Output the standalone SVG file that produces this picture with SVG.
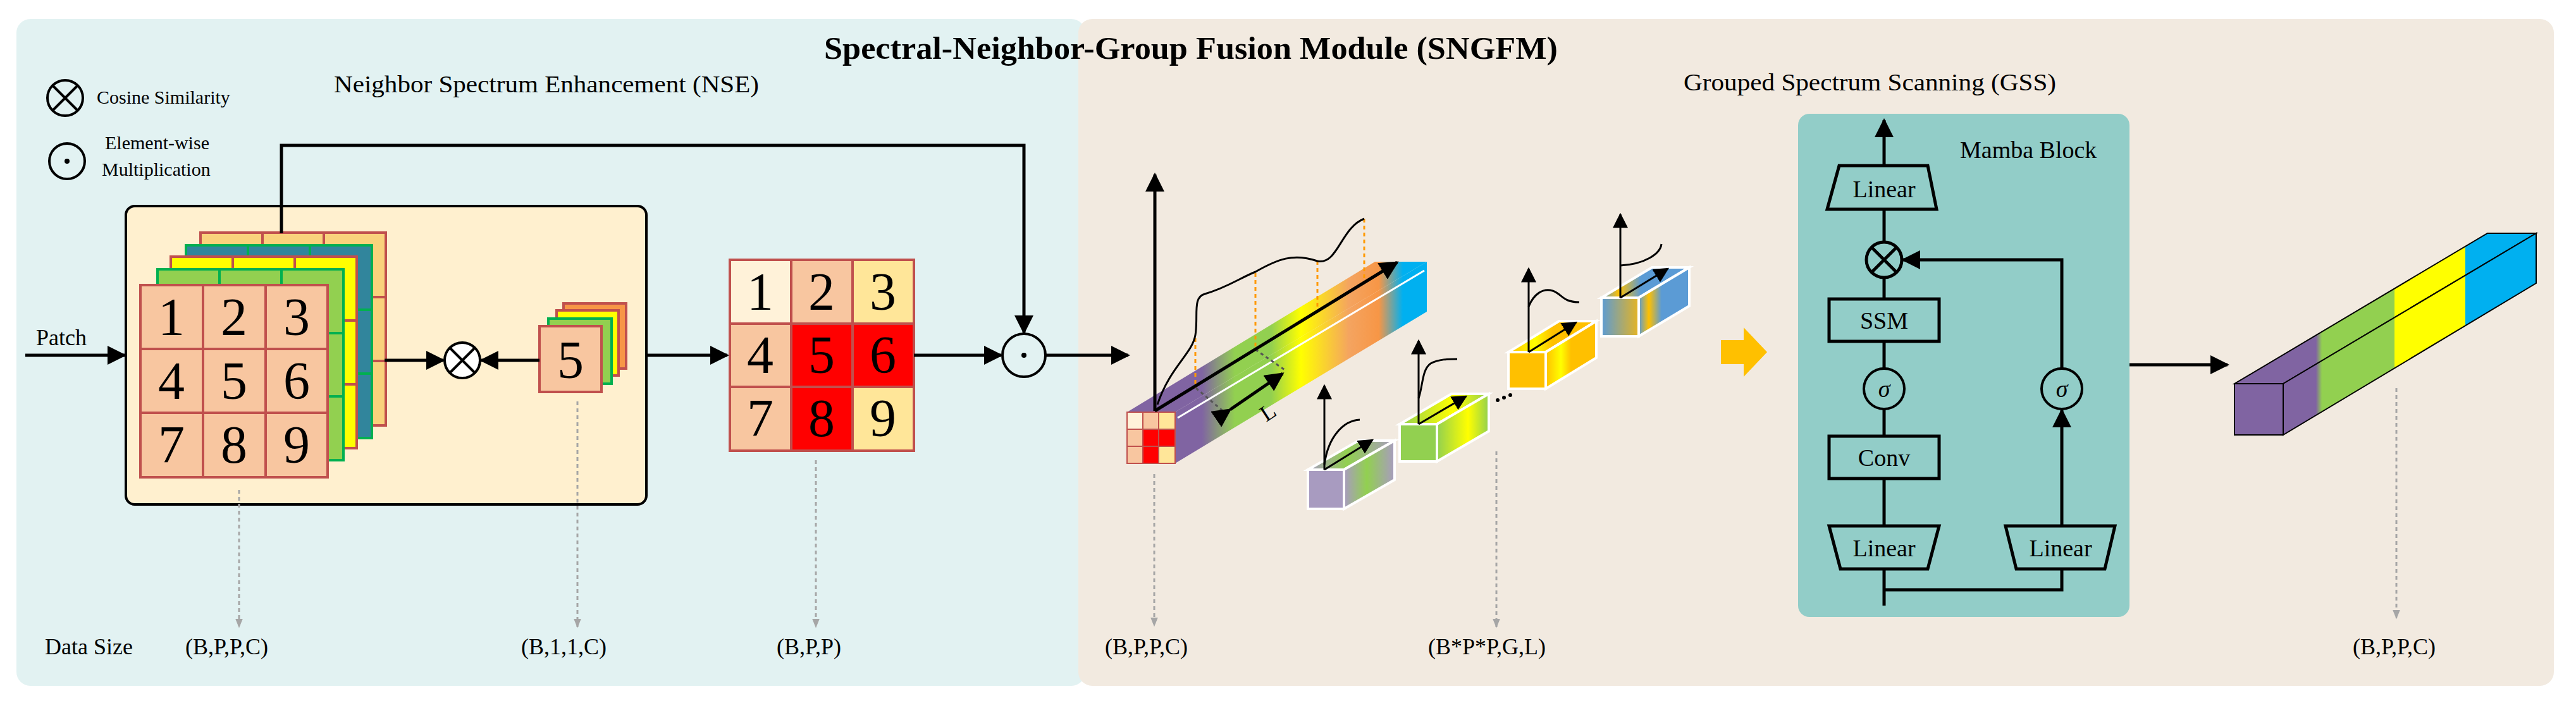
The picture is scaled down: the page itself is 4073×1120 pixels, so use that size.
<svg xmlns="http://www.w3.org/2000/svg" width="4073" height="1120" viewBox="0 0 4073 1120">
<defs>
<style>
text{font-family:"Liberation Serif","Times New Roman",serif;fill:#000}
.t{font-size:38px}
.lbl{font-size:36px}
.dg{font-size:84px;text-anchor:middle}
.ln{stroke:#000;stroke-width:5;fill:none}
.thin{stroke:#000;stroke-width:3;fill:none}
.dash{stroke:#A6A6A6;stroke-width:3;stroke-dasharray:6 5;fill:none}
.box{fill:none;stroke:#000;stroke-width:5}
.cp{fill:#F8C6A0;stroke:#C0504D;stroke-width:4}
.cub{stroke:#fff;stroke-width:4}
</style>
<marker id="ah" viewBox="0 0 10 10" refX="9" refY="5" markerWidth="6" markerHeight="6" orient="auto" markerUnits="strokeWidth"><path d="M0,0L10,5L0,10z" fill="#000"/></marker>
<marker id="ahs" viewBox="0 0 10 10" refX="9" refY="5" markerWidth="8" markerHeight="8" orient="auto" markerUnits="strokeWidth"><path d="M0,0L10,5L0,10z" fill="#000"/></marker>
<marker id="ahg" viewBox="0 0 10 10" refX="9" refY="5" markerWidth="5" markerHeight="5" orient="auto" markerUnits="strokeWidth"><path d="M0,1L10,5L0,9z" fill="#A6A6A6" transform="scale(1,1)"/></marker>
<linearGradient id="bigbar" gradientUnits="userSpaceOnUse" x1="1782" y1="0" x2="2256" y2="0">
<stop offset="0" stop-color="#8064A2"/><stop offset="0.25" stop-color="#8064A2"/><stop offset="0.36" stop-color="#92D050"/><stop offset="0.48" stop-color="#92D050"/><stop offset="0.58" stop-color="#FFFF00"/><stop offset="0.74" stop-color="#F4A460"/><stop offset="0.84" stop-color="#F79646"/><stop offset="0.92" stop-color="#00B0F0"/><stop offset="1" stop-color="#00B0F0"/></linearGradient>
<linearGradient id="outbar" gradientUnits="userSpaceOnUse" x1="3533" y1="0" x2="4010" y2="0">
<stop offset="0" stop-color="#8064A2"/><stop offset="0.27" stop-color="#8064A2"/><stop offset="0.29" stop-color="#92D050"/><stop offset="0.53" stop-color="#92D050"/><stop offset="0.53" stop-color="#FFFF00"/><stop offset="0.766" stop-color="#FFFF00"/><stop offset="0.766" stop-color="#00B0F0"/><stop offset="1" stop-color="#00B0F0"/></linearGradient>
<linearGradient id="g1"><stop offset="0" stop-color="#A89BC0"/><stop offset="0.45" stop-color="#92D050"/><stop offset="1" stop-color="#A89BC0"/></linearGradient>
<linearGradient id="g2"><stop offset="0" stop-color="#92D050"/><stop offset="0.6" stop-color="#FFFF00"/><stop offset="1" stop-color="#92D050"/></linearGradient>
<linearGradient id="g3"><stop offset="0" stop-color="#FFC000"/><stop offset="0.3" stop-color="#FFFF00"/><stop offset="0.5" stop-color="#FFC000"/><stop offset="1" stop-color="#FFC000"/></linearGradient>
<linearGradient id="g4f"><stop offset="0" stop-color="#5B9BD5"/><stop offset="1" stop-color="#E6B422"/></linearGradient>
<linearGradient id="g4"><stop offset="0" stop-color="#5B9BD5"/><stop offset="0.2" stop-color="#FFC000"/><stop offset="0.45" stop-color="#5B9BD5"/><stop offset="1" stop-color="#5B9BD5"/></linearGradient>
</defs>

<g id="panels">
<rect x="26" y="30" width="1690" height="1055" rx="22" fill="#E2F2F2"/>
<rect x="1705" y="30" width="2333" height="1055" rx="22" fill="#F2EAE0"/>
<text x="1303" y="93" style="font-size:50px;font-weight:bold" textLength="1160" lengthAdjust="spacingAndGlyphs">Spectral-Neighbor-Group  Fusion Module (SNGFM)</text>
<text x="528" y="146" class="t" textLength="672" lengthAdjust="spacingAndGlyphs">Neighbor Spectrum Enhancement (NSE)</text>
<text x="2662" y="143" class="t" textLength="589" lengthAdjust="spacingAndGlyphs">Grouped Spectrum Scanning (GSS)</text>
</g>

<g id="legend">
<circle cx="103" cy="155" r="28" class="thin" style="stroke-width:4"/>
<path d="M83,135L123,175M123,135L83,175" class="thin" style="stroke-width:4"/>
<text x="153" y="164" style="font-size:30px">Cosine Similarity</text>
<circle cx="106" cy="255" r="28" class="thin" style="stroke-width:4"/>
<circle cx="106" cy="255" r="4" fill="#000"/>
<text x="166" y="236" style="font-size:30px">Element-wise</text>
<text x="161" y="278" style="font-size:30px">Multiplication</text>
</g>

<g id="nse-box">
<rect x="199" y="326" width="823" height="472" rx="14" fill="#FFF0CF" stroke="#000" stroke-width="4"/>
</g>

<g id="stack">
<g stroke-width="4">
<rect x="317" y="368" width="293" height="305" fill="#F9D27C" stroke="#C0504D"/>
<path d="M415,368V673M512,368V673M317,470H610M317,571H610" stroke="#C0504D"/>
<rect x="294" y="388" width="294" height="305" fill="#31859C" stroke="#00B050"/>
<path d="M392,388V693M490,388V693M294,490H588M294,591H588" stroke="#00B050"/>
<rect x="270" y="406" width="294" height="303" fill="#FFFF00" stroke="#C0504D"/>
<path d="M368,406V709M466,406V709M270,507H564M270,608H564" stroke="#C0504D"/>
<rect x="249" y="426" width="294" height="302" fill="#92D050" stroke="#00B050"/>
<path d="M347,426V728M445,426V728M249,527H543M249,627H543" stroke="#00B050"/>
</g>
<g class="cp">
<rect x="222" y="451" width="99" height="101"/><rect x="321" y="451" width="99" height="101"/><rect x="420" y="451" width="98" height="101"/>
<rect x="222" y="552" width="99" height="101"/><rect x="321" y="552" width="99" height="101"/><rect x="420" y="552" width="98" height="101"/>
<rect x="222" y="653" width="99" height="102"/><rect x="321" y="653" width="99" height="102"/><rect x="420" y="653" width="98" height="102"/>
</g>
<g class="dg" style="fill:#fff">
<text x="271" y="530" fill="#fff">1</text><text x="370" y="530" fill="#fff">2</text><text x="469" y="530" fill="#fff">3</text>
<text x="271" y="631" fill="#fff">4</text><text x="370" y="631" fill="#C00000">5</text><text x="469" y="631" fill="#fff">6</text>
<text x="271" y="732" fill="#fff">7</text><text x="370" y="732" fill="#fff">8</text><text x="469" y="732" fill="#fff">9</text>
</g>
</g>

<g id="cos1">
<circle cx="731" cy="570" r="28" fill="#fff" stroke="#000" stroke-width="4"/>
<path d="M711,550L751,590M751,550L711,590" class="thin" style="stroke-width:4"/>
</g>

<g id="center-card">
<rect x="891" y="480" width="99" height="103" fill="#F79646" stroke="#C0504D" stroke-width="4"/>
<rect x="880" y="491" width="98" height="103" fill="#FFFF00" stroke="#C0504D" stroke-width="4"/>
<rect x="867" y="504" width="100" height="103" fill="#92D050" stroke="#00B050" stroke-width="4"/>
<rect x="853" y="516" width="98" height="104" class="cp"/>
<text x="902" y="598" class="dg" fill="#C00000">5</text>
</g>

<g id="grid">
<rect x="1154" y="411" width="97" height="101" fill="#FFF2D9" stroke="#C0504D" stroke-width="4"/>
<rect x="1251" y="411" width="97" height="101" fill="#F8C6A0" stroke="#C0504D" stroke-width="4"/>
<rect x="1348" y="411" width="97" height="101" fill="#FFE699" stroke="#C0504D" stroke-width="4"/>
<rect x="1154" y="512" width="97" height="100" fill="#F8C6A0" stroke="#C0504D" stroke-width="4"/>
<rect x="1251" y="512" width="97" height="100" fill="#FF0000" stroke="#C0504D" stroke-width="4"/>
<rect x="1348" y="512" width="97" height="100" fill="#FF0000" stroke="#C0504D" stroke-width="4"/>
<rect x="1154" y="612" width="97" height="101" fill="#F8C6A0" stroke="#C0504D" stroke-width="4"/>
<rect x="1251" y="612" width="97" height="101" fill="#FF0000" stroke="#C0504D" stroke-width="4"/>
<rect x="1348" y="612" width="97" height="101" fill="#FFE699" stroke="#C0504D" stroke-width="4"/>
<g class="dg">
<text x="1202" y="490">1</text><text x="1299" y="490">2</text><text x="1396" y="490">3</text>
<text x="1202" y="590">4</text><text x="1299" y="590">5</text><text x="1396" y="590">6</text>
<text x="1202" y="690">7</text><text x="1299" y="690">8</text><text x="1396" y="690">9</text>
</g>
</g>

<g id="mul1">
<circle cx="1619" cy="562" r="34" fill="none" stroke="#000" stroke-width="4"/>
<circle cx="1619" cy="562" r="4" fill="#000"/>
</g>

<g id="bigbar">
<polygon points="1782,652 1858,652 2256,414 2174,414" fill="url(#bigbar)"/>
<polygon points="1858,652 2256,414 2256,493 1858,733" fill="url(#bigbar)"/>
<line x1="1862" y1="661" x2="2252" y2="428" stroke="#fff" stroke-width="3"/>
<g stroke="#C0504D" stroke-width="2">
<rect x="1782" y="652" width="25" height="27" fill="#FFF2D9"/><rect x="1807" y="652" width="25" height="27" fill="#F8C6A0"/><rect x="1832" y="652" width="26" height="27" fill="#FFE699"/>
<rect x="1782" y="679" width="25" height="27" fill="#F8C6A0"/><rect x="1807" y="679" width="25" height="27" fill="#FF0000"/><rect x="1832" y="679" width="26" height="27" fill="#FF0000"/>
<rect x="1782" y="706" width="25" height="27" fill="#F8C6A0"/><rect x="1807" y="706" width="25" height="27" fill="#FF0000"/><rect x="1832" y="706" width="26" height="27" fill="#FFE699"/>
</g>
<g stroke="#FF9900" stroke-width="3" stroke-dasharray="6 5">
<line x1="1890" y1="535" x2="1890" y2="614"/><line x1="1985" y1="432" x2="1985" y2="553"/><line x1="2083" y1="413" x2="2083" y2="495"/><line x1="2157" y1="346" x2="2157" y2="445"/>
</g>
<g stroke="#555" stroke-width="3" stroke-dasharray="5 5"><line x1="1891" y1="614" x2="1937" y2="653"/><line x1="1985" y1="553" x2="2034" y2="587"/></g>
<line x1="1826" y1="650" x2="1826" y2="276" class="ln" marker-end="url(#ah)"/>
<line x1="1826" y1="650" x2="2209" y2="415" class="ln" marker-end="url(#ah)"/>
<line x1="1945" y1="648" x2="2028" y2="591" class="ln" marker-start="url(#ah)" marker-end="url(#ah)"/>
<path d="M1830,640C1850,580 1885,560 1890,530C1895,500 1885,470 1905,465C1940,455 1960,440 1985,430C2020,410 2045,400 2083,413C2115,420 2120,360 2157,346" class="thin"/>
<text x="2002" y="668" style="font-size:36px" transform="rotate(-33 2002 668)">L</text>
</g>

<g id="groups">
<g id="cub1">
<polygon points="2068,743 2125,743 2205,697 2148,697" fill="url(#g1)" class="cub"/>
<polygon points="2125,743 2205,697 2205,759 2125,805" fill="url(#g1)" class="cub"/>
<rect x="2068" y="743" width="57" height="62" fill="#A89BC0" class="cub"/>
<line x1="2094" y1="743" x2="2094" y2="610" class="thin" marker-end="url(#ahs)"/>
<line x1="2094" y1="743" x2="2170" y2="696" class="thin" marker-end="url(#ahs)"/>
<path d="M2094,735C2100,690 2125,665 2150,664" class="thin"/>
</g>
<g id="cub2">
<polygon points="2213,671 2272,671 2354,623 2295,623" fill="url(#g2)" class="cub"/>
<polygon points="2272,671 2354,623 2354,682 2272,730" fill="url(#g2)" class="cub"/>
<rect x="2213" y="671" width="59" height="59" fill="#92D050" class="cub"/>
<line x1="2243" y1="671" x2="2243" y2="539" class="thin" marker-end="url(#ahs)"/>
<line x1="2243" y1="671" x2="2318" y2="627" class="thin" marker-end="url(#ahs)"/>
<path d="M2243,630C2250,610 2248,585 2262,575C2275,568 2290,568 2304,568" class="thin"/>
</g>
<g id="dots" fill="#000"><circle cx="2368" cy="633" r="3"/><circle cx="2378" cy="629" r="3"/><circle cx="2388" cy="625" r="3"/></g>
<g id="cub3">
<polygon points="2385,557 2444,557 2524,508 2465,508" fill="url(#g3)" class="cub"/>
<polygon points="2444,557 2524,508 2524,566 2444,615" fill="url(#g3)" class="cub"/>
<rect x="2385" y="557" width="59" height="58" fill="#FFC000" class="cub"/>
<line x1="2417" y1="557" x2="2417" y2="425" class="thin" marker-end="url(#ahs)"/>
<line x1="2417" y1="557" x2="2492" y2="510" class="thin" marker-end="url(#ahs)"/>
<path d="M2417,485C2425,465 2440,455 2455,460C2470,465 2470,478 2497,478" class="thin"/>
</g>
<g id="cub4">
<polygon points="2532,471 2591,471 2671,423 2612,423" fill="url(#g4)" class="cub"/>
<polygon points="2591,471 2671,423 2671,484 2591,532" fill="url(#g4)" class="cub"/>
<rect x="2532" y="471" width="59" height="61" fill="url(#g4f)" class="cub"/>
<line x1="2562" y1="471" x2="2562" y2="339" class="thin" marker-end="url(#ahs)"/>
<line x1="2562" y1="471" x2="2637" y2="425" class="thin" marker-end="url(#ahs)"/>
<path d="M2562,420C2600,418 2625,402 2627,386" class="thin"/>
</g>
</g>

<g id="orange-arrow"><polygon points="2721,538 2757,538 2757,518 2794,557 2757,596 2757,576 2721,576" fill="#FFC000"/></g>

<g id="mamba">
<rect x="2843" y="180" width="524" height="796" rx="18" fill="#92CDC8"/>
<text x="3099" y="250" class="t">Mamba Block</text>
<polygon points="2908,262 3048,262 3062,331 2889,331" class="box"/>
<text x="2979" y="312" class="t" text-anchor="middle">Linear</text>
<circle cx="2979" cy="411" r="28" class="box"/>
<path d="M2959,391L2999,431M2999,391L2959,431" class="box"/>
<rect x="2892" y="473" width="174" height="67" class="box"/>
<text x="2979" y="520" class="t" text-anchor="middle">SSM</text>
<circle cx="2979" cy="615" r="32" class="box" style="stroke-width:4"/>
<text x="2979" y="628" class="t" text-anchor="middle" font-style="italic">σ</text>
<rect x="2892" y="690" width="174" height="67" class="box"/>
<text x="2979" y="737" class="t" text-anchor="middle">Conv</text>
<polygon points="2892,832 3066,832 3048,900 2910,900" class="box"/>
<text x="2979" y="880" class="t" text-anchor="middle">Linear</text>
<polygon points="3171,832 3344,832 3328,900 3188,900" class="box"/>
<text x="3258" y="880" class="t" text-anchor="middle">Linear</text>
<circle cx="3260" cy="615" r="32" class="box" style="stroke-width:4"/>
<text x="3260" y="628" class="t" text-anchor="middle" font-style="italic">σ</text>
</g>

<g id="outbar">
<polygon points="3533,607 3610,607 4010,369 3933,369" fill="url(#outbar)" stroke="#000" stroke-width="2"/>
<polygon points="3610,607 4010,369 4010,448 3610,688" fill="url(#outbar)" stroke="#000" stroke-width="2"/>
<rect x="3533" y="607" width="77" height="81" fill="#8064A2" stroke="#000" stroke-width="2"/>
</g>

<g id="connectors">
<line x1="40" y1="562" x2="197" y2="562" class="ln" marker-end="url(#ah)"/>
<text x="57" y="546" class="lbl">Patch</text>
<polyline points="445,369 445,230 1619,230 1619,526" class="ln" marker-end="url(#ah)"/>
<line x1="608" y1="570" x2="701" y2="570" class="ln" marker-end="url(#ah)"/>
<line x1="853" y1="570" x2="761" y2="570" class="ln" marker-end="url(#ah)"/>
<line x1="1022" y1="562" x2="1150" y2="562" class="ln" marker-end="url(#ah)"/>
<line x1="1445" y1="562" x2="1583" y2="562" class="ln" marker-end="url(#ah)"/>
<line x1="1653" y1="562" x2="1784" y2="562" class="ln" marker-end="url(#ah)"/>
<line x1="2979" y1="262" x2="2979" y2="190" class="ln" marker-end="url(#ah)"/>
<line x1="2979" y1="331" x2="2979" y2="383"/>
<line x1="2979" y1="439" x2="2979" y2="473" class="ln"/>
<line x1="2979" y1="331" x2="2979" y2="383" class="ln"/>
<line x1="2979" y1="540" x2="2979" y2="583" class="ln"/>
<line x1="2979" y1="647" x2="2979" y2="690" class="ln"/>
<line x1="2979" y1="757" x2="2979" y2="832" class="ln"/>
<polyline points="2979,958 2979,900" class="ln"/>
<polyline points="2979,933 3260,933 3260,900" class="ln"/>
<line x1="3260" y1="832" x2="3260" y2="649" class="ln" marker-end="url(#ah)"/>
<polyline points="3260,583 3260,411 3009,411" class="ln" marker-end="url(#ah)"/>
<line x1="3367" y1="577" x2="3522" y2="577" class="ln" marker-end="url(#ah)"/>
<line x1="378" y1="775" x2="378" y2="992" class="dash" marker-end="url(#ahg)"/>
<line x1="913" y1="635" x2="913" y2="992" class="dash" marker-end="url(#ahg)"/>
<line x1="1290" y1="728" x2="1290" y2="992" class="dash" marker-end="url(#ahg)"/>
<line x1="1825" y1="750" x2="1825" y2="990" class="dash" marker-end="url(#ahg)"/>
<line x1="2366" y1="714" x2="2366" y2="992" class="dash" marker-end="url(#ahg)"/>
<line x1="3789" y1="614" x2="3789" y2="978" class="dash" marker-end="url(#ahg)"/>
</g>

<g id="labels" class="lbl">
<text x="71" y="1035" class="lbl">Data Size</text>
<text x="293" y="1035" class="lbl">(B,P,P,C)</text>
<text x="824" y="1035" class="lbl">(B,1,1,C)</text>
<text x="1228" y="1035" class="lbl">(B,P,P)</text>
<text x="1747" y="1035" class="lbl">(B,P,P,C)</text>
<text x="2258" y="1035" class="lbl">(B*P*P,G,L)</text>
<text x="3720" y="1035" class="lbl">(B,P,P,C)</text>
</g>
</svg>
